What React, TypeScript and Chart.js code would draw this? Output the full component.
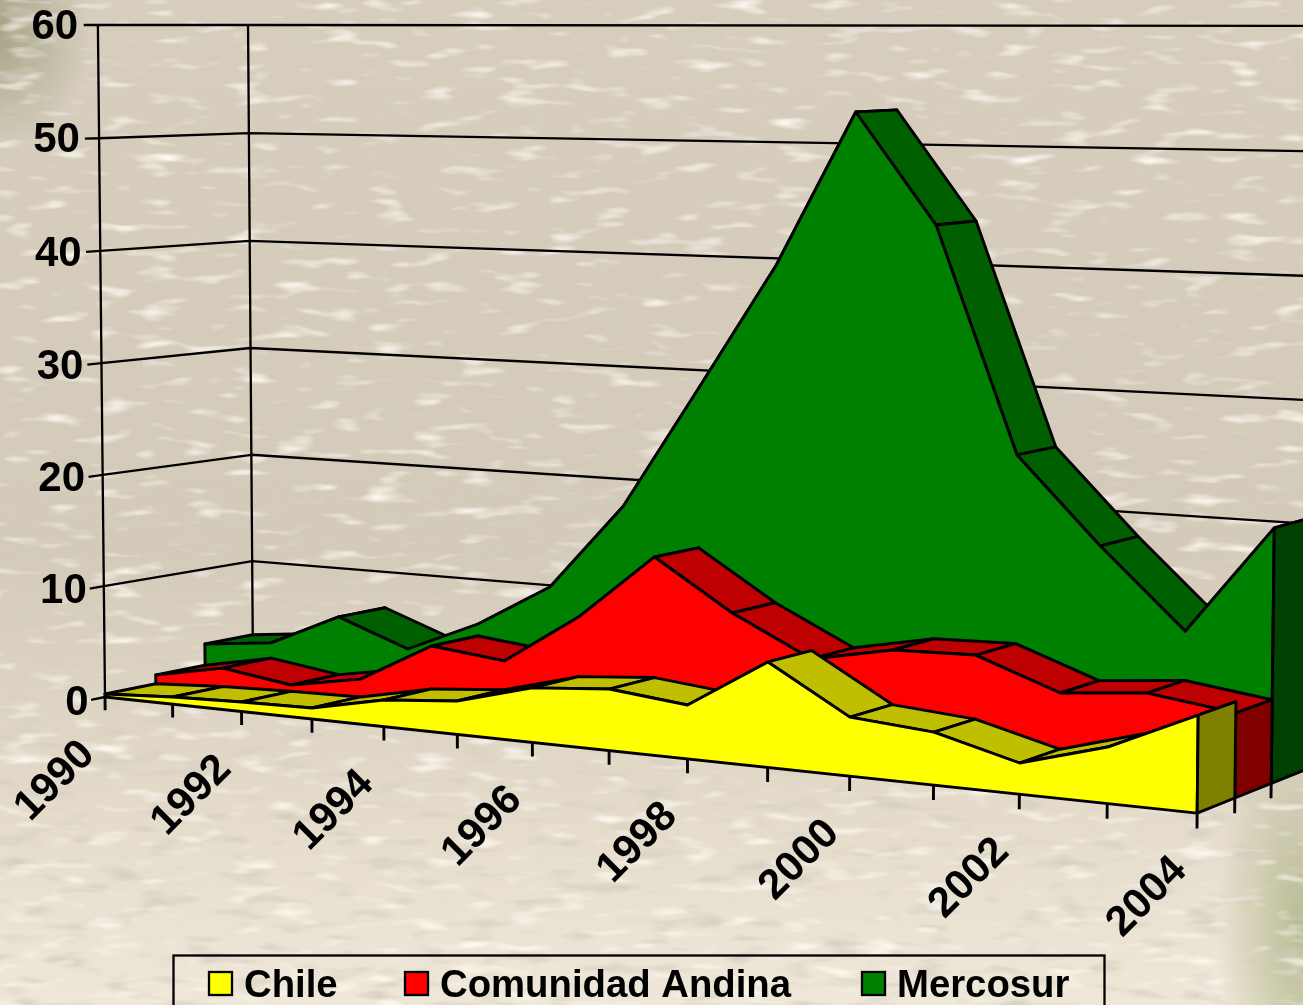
import React, { useEffect, useRef } from "react";
import { Chart, registerables } from "chart.js";

Chart.register(...registerables);

const years = ["1990", "1991", "1992", "1993", "1994", "1995", "1996", "1997", "1998", "1999", "2000", "2001", "2002", "2003", "2004"];
const chile = [0.27, 0.64, 0.84, 0.97, 2.31, 2.87, 4.63, 5.17, 4.48, 8.66, 4.8, 4.26, 2.48, 4.44, 7.6];
const comunidadAndina = [1.07, 2.32, 1.41, 2.56, 6.09, 5.38, 9.76, 15.43, 11.23, 7.96, 9.3, 9.48, 7.02, 7.65, 6.72];
const mercosur = [3.05, 3.73, 6.68, 4.34, 7.16, 10.99, 18.58, 29.18, 39.9, 52.89, 43.68, 25.05, 18.04, 11.64, 20.46];
const valueTicks = [0, 10, 20, 30, 40, 50, 60];
const seriesNames = ["Chile", "Comunidad Andina", "Mercosur"];
const frontColors = ["#ffff00", "#ff0000", "#008000"];
const topColors = ["#bfbf00", "#bf0000", "#006000"];
const sideColors = ["#808000", "#800000", "#004000"];

const W = 1303;
const H = 1005;
const FONT = '"Liberation Sans", Arial, sans-serif';
const LAST = years.length - 1;

// Perspective projection of (year index, value, depth 0..1) into the two linear scales of the chart.
function project(i: number, v: number, z: number) {
  const w = 1 - 0.0102 * i - 0.000215 * v + 0.0467 * z;
  return {
    x: (105 + 65.8 * i - 0.1396 * v + 159.8 * z - 0.375 * i * z) / w,
    y: (697 - 11.205 * v + 1.15 * z - 0.2 * i * z) / w,
  };
}

type Pt = { x: number; y: number };
function shape(points: Pt[], fill?: string, thin?: boolean) {
  return {
    type: "line" as const,
    data: points,
    showLine: false,
    pointRadius: 0,
    clip: false,
    shapeFill: fill,
    shapeWidth: thin ? 2.3 : 2.9,
  };
}

function buildDatasets() {
  const out: any[] = [];
  // walls
  for (const v of valueTicks) {
    out.push(shape([project(0, v, -0.09), project(0, v, 0), project(0, v, 1), project(LAST, v, 1)], undefined, true));
  }
  out.push(shape([project(0, 0, 0), project(0, 60, 0)], undefined, true));
  out.push(shape([project(0, 0, 1), project(0, 60, 1)], undefined, true));
  // ticks
  for (let i = 0; i <= LAST; i++) out.push(shape([project(i, 0, 0), project(i, -1.2, 0)]));
  for (const z of [1 / 3, 2 / 3, 1]) out.push(shape([project(LAST, 0, z), project(LAST, -1.2, z)]));
  // series, back to front
  const series = [chile, comunidadAndina, mercosur];
  for (let s = 2; s >= 0; s--) {
    const vals = series[s];
    const z0 = s / 3;
    const z1 = (s + 1) / 3;
    for (let i = 0; i < LAST; i++) {
      out.push(
        shape(
          [project(i, vals[i], z0), project(i + 1, vals[i + 1], z0), project(i + 1, vals[i + 1], z1), project(i, vals[i], z1)],
          topColors[s]
        )
      );
    }
    out.push(
      shape(
        [...vals.map((v, i) => project(i, v, z0)), project(LAST, 0, z0), project(0, 0, z0)],
        frontColors[s]
      )
    );
    out.push(
      shape(
        [project(LAST, vals[LAST], z0), project(LAST, vals[LAST], z1), project(LAST, 0, z1), project(LAST, 0, z0)],
        sideColors[s]
      )
    );
  }
  return out;
}

const shapesPlugin = {
  id: "shapes3d",
  beforeDatasetsDraw(chart: any) {
    const ctx = chart.ctx as CanvasRenderingContext2D;
    ctx.save();
    ctx.lineJoin = "round";
    ctx.lineCap = "butt";
    ctx.strokeStyle = "#000";
    chart.data.datasets.forEach((ds: any, idx: number) => {
      const pts = chart.getDatasetMeta(idx).data;
      ctx.lineWidth = ds.shapeWidth;
      ctx.beginPath();
      pts.forEach((p: any, k: number) => (k ? ctx.lineTo(p.x, p.y) : ctx.moveTo(p.x, p.y)));
      if (ds.shapeFill) {
        ctx.closePath();
        ctx.fillStyle = ds.shapeFill;
        ctx.fill();
      }
      ctx.stroke();
    });
    ctx.restore();
  },
  afterDraw(chart: any) {
    const ctx = chart.ctx as CanvasRenderingContext2D;
    const sx = chart.scales.x;
    const sy = chart.scales.y;
    ctx.save();
    ctx.fillStyle = "#000";
    // value labels
    ctx.font = `bold 42px ${FONT}`;
    ctx.textAlign = "right";
    ctx.textBaseline = "middle";
    for (const v of valueTicks) {
      const p = project(0, v, -0.125);
      ctx.fillText(String(v), sx.getPixelForValue(p.x) + (60 - v) * 0.05, sy.getPixelForValue(p.y) + 2);
    }
    // year labels
    ctx.font = `bold 42px ${FONT}`;
    ctx.textAlign = "center";
    years.forEach((y, i) => {
      if (i % 2) return;
      const p = project(i, 0, 0);
      ctx.save();
      ctx.translate(sx.getPixelForValue(p.x) - 50, sy.getPixelForValue(p.y) + 84);
      ctx.rotate(-Math.PI / 4);
      ctx.fillText(y, 0, 0);
      ctx.restore();
    });
    // legend
    ctx.lineWidth = 2.3;
    ctx.strokeStyle = "#000";
    ctx.strokeRect(173.5, 955.5, 931, 70);
    const swatchX = [209, 405, 862];
    ctx.font = `bold 38.3px ${FONT}`;
    ctx.textAlign = "left";
    ctx.textBaseline = "alphabetic";
    seriesNames.forEach((name, k) => {
      ctx.fillStyle = frontColors[k];
      ctx.fillRect(swatchX[k], 972, 23, 23);
      ctx.strokeRect(swatchX[k], 972, 23, 23);
      ctx.fillStyle = "#000";
      ctx.fillText(name, swatchX[k] + 35, 997);
    });
    ctx.restore();
  },
};

const noise = (seed: number, r: number, g: number, b: number, gain: number, bias: number) =>
  `url("data:image/svg+xml,${encodeURIComponent(
    `<svg xmlns='http://www.w3.org/2000/svg' width='${W}' height='${H}'><filter id='n' x='0' y='0' width='100%' height='100%'><feTurbulence type='fractalNoise' baseFrequency='0.022 0.085' numOctaves='2' seed='${seed}'/><feColorMatrix values='0 0 0 0 ${r} 0 0 0 0 ${g} 0 0 0 0 ${b} ${gain} 0 0 0 ${bias}'/></filter><rect width='100%' height='100%' filter='url(#n)'/></svg>`
  )}")`;

const background = [
  noise(7, 0.98, 0.95, 0.88, 3.2, -1.85),
  noise(3, 0.66, 0.61, 0.52, 2.6, -1.4),
  "radial-gradient(ellipse 90px 120px at 0px 30px, rgba(150,150,115,0.75), rgba(150,150,115,0) 100%)",
  "radial-gradient(ellipse 85px 230px at 1303px 930px, rgba(170,176,130,0.8), rgba(170,176,130,0) 100%)",
  "linear-gradient(180deg, #d6cdbd 0%, #d3cab9 55%, #e2d9c9 78%, #efe7d7 100%)",
].join(",");

export default function App() {
  const ref = useRef<HTMLCanvasElement | null>(null);
  useEffect(() => {
    if (!ref.current) return;
    const chart = new Chart(ref.current, {
      type: "line",
      data: { datasets: buildDatasets() },
      options: {
        responsive: false,
        animation: false,
        layout: { padding: 0 },
        events: [],
        plugins: { legend: { display: false }, tooltip: { enabled: false } },
        scales: {
          x: { type: "linear", display: false, min: 0, max: W },
          y: { type: "linear", display: false, reverse: true, min: 0, max: H },
        },
      },
      plugins: [shapesPlugin],
    } as any);
    return () => chart.destroy();
  }, []);
  return (
    <div style={{ position: "fixed", left: 0, top: 0, width: W, height: H, overflow: "hidden", background }}>
      <canvas ref={ref} width={W} height={H} style={{ display: "block" }} />
    </div>
  );
}
